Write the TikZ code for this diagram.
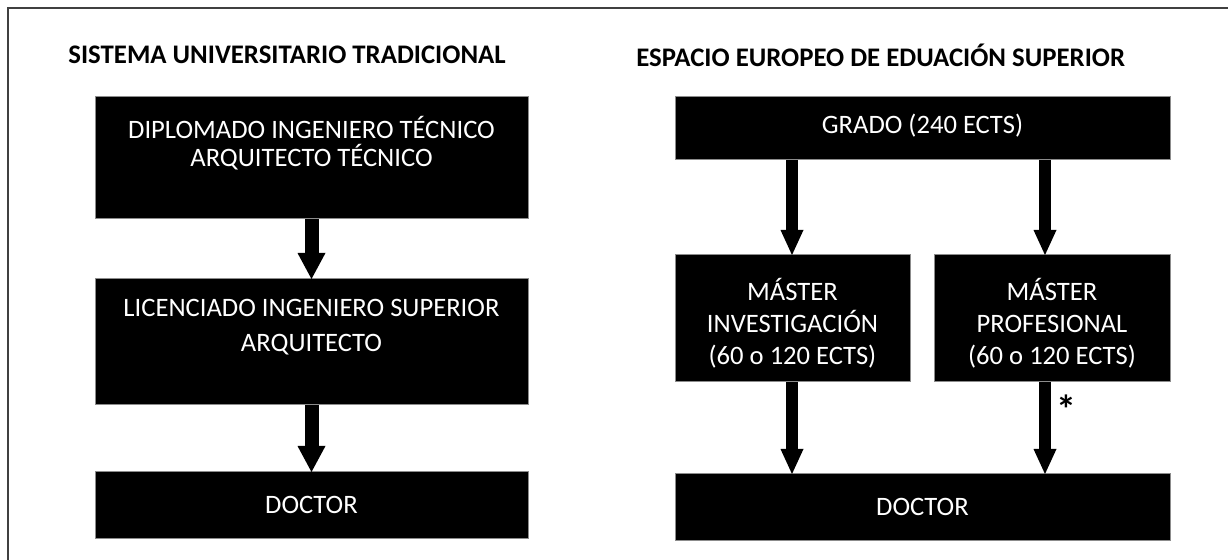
\documentclass[tikz,border=0pt]{standalone}
\usepackage{fontspec}
\setmainfont{Carlito}
\usetikzlibrary{arrows.meta,calc}
\begin{document}
\begin{tikzpicture}[x=0.5pt,y=-0.5pt,
  boxnode/.style={fill=black,draw=black!45,line width=0.5pt,inner sep=0pt,outer sep=0pt,rectangle},
  boxtext/.style={text=white,align=center,inner sep=0pt,font=\fontsize{13.3}{14}\selectfont},
  titletext/.style={font=\fontsize{13.4}{14}\selectfont\bfseries,inner sep=0pt,anchor=west},
  bigarrow/.style={line width=7pt,-{Triangle[width=14pt,length=13pt,line width=0pt]}},
  smallarrow/.style={line width=6pt,-{Triangle[width=11.5pt,length=12.5pt,line width=0pt]}}
]
\useasboundingbox (0,0) rectangle (1228,560);
\draw[line width=0.8pt,black!75] (8,560) -- (8,8) -- (1228,8);

\node[titletext] (t1) at (68,55) {SISTEMA UNIVERSITARIO TRADICIONAL};
\node[titletext] (t2) at (636,55) {ESPACIO EUROPEO DE EDUACIÓN SUPERIOR};

% left column
\node[boxnode,minimum width=216.5pt,minimum height=61pt] (b1) at (311.5,158) {};
\node[boxtext,font=\fontsize{13.3}{14}\selectfont] (b1t) at (311.5,143) {DIPLOMADO INGENIERO TÉCNICO\\ARQUITECTO TÉCNICO};
\node[boxnode,minimum width=216.5pt,minimum height=63pt] (b2) at (311.5,342) {};
\node[boxtext,font=\fontsize{13.3}{17.5}\selectfont] (b2t) at (311.5,327.5) {LICENCIADO INGENIERO SUPERIOR\\ARQUITECTO};
\node[boxnode,minimum width=216.5pt,minimum height=33.5pt] (b3) at (311.5,505.5) {};
\node[boxtext] (b3t) at (311.5,505) {DOCTOR};

\draw[bigarrow] (b1.south) -- (b2.north);
\draw[bigarrow] (b2.south) -- (b3.north);

% right column
\node[boxnode,minimum width=247.5pt,minimum height=31.5pt] (g) at (922.5,128.5) {};
\node[boxtext] (gt) at (922.5,126) {GRADO (240 ECTS)};
\node[boxnode,minimum width=117.5pt,minimum height=63.5pt] (m1) at (792.5,318.5) {};
\node[boxtext,font=\fontsize{13.3}{16}\selectfont] (m1t) at (792.5,323) {MÁSTER\\INVESTIGACIÓN\\(60 o 120 ECTS)};
\node[boxnode,minimum width=118pt,minimum height=63.5pt] (m2) at (1052,318.5) {};
\node[boxtext,font=\fontsize{13.3}{16}\selectfont] (m2t) at (1052,323) {MÁSTER\\PROFESIONAL\\(60 o 120 ECTS)};
\node[boxnode,minimum width=247.5pt,minimum height=33.5pt] (d2) at (922.5,507.5) {};
\node[boxtext] (d2t) at (922.5,507) {DOCTOR};

\coordinate (xl) at (792,0);
\coordinate (xr) at (1045,0);
\draw[smallarrow] (g.south -| xl) -- (m1.north -| xl);
\draw[smallarrow] (g.south -| xr) -- (m2.north -| xr);
\draw[smallarrow] (m1.south -| xl) -- (d2.north -| xl);
\draw[smallarrow] (m2.south -| xr) -- (d2.north -| xr)
  node[pos=0.3,xshift=10.5pt,inner sep=0pt,font=\fontsize{20}{20}\selectfont\bfseries] (ast) {*};
\end{tikzpicture}
\end{document}
